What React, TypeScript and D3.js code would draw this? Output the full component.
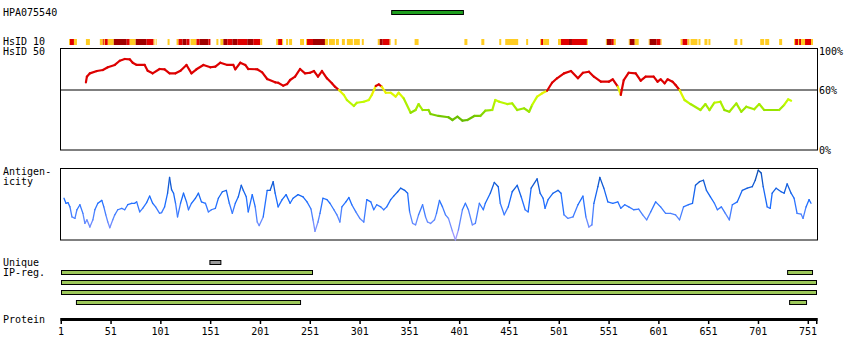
import React from "react";
import * as d3 from "d3";

const TITLE = "HPA075540";
const PROTEIN_LENGTH = 760;
const ANTIGEN: [number, number] = [333, 405];
const TICKS = [1, 51, 101, 151, 201, 251, 301, 351, 401, 451, 501, 551, 601, 651, 701, 751];

// HsID 10 segments: [start, end, level] level 1 = yellow, 2 = red, 3 = dark red
const HSID10: [number, number, number][] = [
  [9, 10, 1], [10, 14, 2], [14, 17, 1], [26, 30, 1], [40, 43, 1], [43, 44, 2], [44, 45, 1], [45, 48, 2],
  [48, 54, 1], [54, 67, 3], [67, 70, 2], [70, 76, 1], [76, 87, 3], [87, 94, 2], [94, 95, 1], [96, 97, 1],
  [108, 110, 1], [117, 119, 1], [119, 123, 2], [123, 127, 3], [127, 130, 2], [131, 137, 1], [137, 140, 2],
  [140, 149, 3], [149, 151, 2], [157, 159, 1], [161, 164, 1], [164, 168, 3], [168, 173, 2], [173, 178, 3],
  [178, 188, 2], [188, 194, 3], [194, 201, 2], [201, 203, 1], [217, 219, 1], [219, 223, 2], [223, 224, 1],
  [227, 229, 1], [230, 233, 1], [241, 245, 1], [247, 248, 1], [248, 254, 2], [254, 266, 3], [266, 269, 1],
  [270, 276, 1], [277, 280, 1], [283, 286, 1], [288, 294, 1], [295, 301, 1], [303, 305, 1], [319, 321, 1],
  [321, 324, 3], [324, 331, 2], [331, 332, 1], [336, 338, 1], [356, 360, 1], [406, 409, 1], [423, 426, 1],
  [441, 443, 1], [447, 460, 1], [468, 470, 1], [482, 483, 1], [483, 485, 2], [485, 491, 1], [500, 503, 1],
  [503, 511, 2], [511, 514, 3], [514, 529, 2], [529, 530, 1], [548, 549, 1], [549, 554, 3], [554, 556, 2],
  [556, 558, 1], [571, 572, 1], [572, 577, 3], [577, 581, 1], [591, 592, 1], [592, 599, 3], [599, 603, 2],
  [603, 604, 1], [623, 625, 1], [625, 630, 2], [630, 632, 1], [633, 640, 1], [641, 643, 1], [647, 650, 1],
  [651, 653, 1], [677, 680, 1], [683, 685, 1], [703, 707, 1], [708, 712, 1], [722, 725, 1], [737, 738, 1],
  [738, 741, 2], [741, 742, 1], [742, 744, 2], [744, 748, 1], [748, 754, 2], [754, 756, 1],
];

// HsID 50 identity (%)
const ID_POS = [26, 27, 30, 37, 43, 48, 55, 60, 65, 70, 73, 77, 85, 88, 93, 100, 105, 110, 116, 121, 127, 132, 137, 144, 151, 156, 161, 168, 174, 176, 181, 186, 189, 198, 203, 208, 216, 219, 224, 228, 231, 236, 241, 246, 251, 255, 259, 263, 268, 273, 276, 280, 285, 288, 295, 298, 305, 310, 313, 317, 320, 323, 327, 332, 337, 340, 345, 352, 357, 360, 364, 370, 372, 380, 390, 394, 399, 404, 409, 416, 422, 427, 434, 437, 441, 449, 454, 459, 466, 471, 474, 479, 484, 489, 494, 499, 506, 513, 520, 525, 531, 536, 543, 551, 555, 560, 563, 566, 571, 578, 583, 588, 596, 600, 603, 607, 610, 615, 618, 622, 627, 633, 643, 648, 652, 657, 663, 667, 672, 679, 684, 689, 697, 702, 707, 722, 727, 731, 734];
const ID_VAL = [67.0, 72.6, 75.9, 78.2, 79.2, 81.9, 84.2, 88.4, 90.1, 89.8, 86.4, 84.2, 84.2, 78.5, 75.9, 80.2, 79.9, 75.9, 75.9, 78.5, 84.2, 75.9, 79.9, 84.2, 81.9, 82.5, 86.4, 84.2, 84.2, 79.9, 86.4, 84.2, 80.2, 79.9, 76.9, 70.3, 67.0, 66.6, 63.7, 65.3, 69.3, 72.6, 80.2, 75.9, 76.5, 78.2, 72.6, 78.2, 71.0, 66.0, 62.7, 59.4, 54.5, 49.5, 43.6, 46.8, 47.8, 49.5, 54.5, 63.4, 65.0, 62.7, 56.7, 56.7, 52.8, 56.7, 51.2, 36.9, 39.6, 45.5, 39.6, 39.6, 35.6, 33.7, 32.4, 29.7, 33.0, 29.0, 29.7, 33.7, 33.7, 38.9, 39.6, 49.5, 47.8, 45.5, 46.2, 39.6, 41.3, 37.9, 44.6, 52.8, 56.1, 58.7, 66.6, 71.0, 75.9, 78.2, 71.0, 76.5, 77.5, 72.6, 67.6, 67.6, 70.0, 62.7, 54.5, 69.3, 76.5, 75.9, 68.6, 72.6, 72.6, 67.6, 70.0, 66.0, 70.0, 67.6, 64.4, 59.4, 49.5, 45.5, 39.6, 45.5, 39.6, 46.8, 47.8, 39.6, 37.9, 46.2, 37.9, 42.9, 40.3, 45.5, 39.6, 39.6, 44.6, 50.2, 48.8];

// Antigenicity (relative score 0..1)
const AG_POS = [4, 6, 8, 10, 12, 15, 17, 20, 23, 25, 27, 30, 33, 35, 38, 42, 44, 46, 48, 50, 53, 55, 58, 62, 65, 68, 72, 75, 77, 80, 83, 87, 90, 93, 96, 100, 102, 105, 108, 110, 112, 114, 116, 118, 121, 124, 127, 129, 132, 136, 139, 142, 146, 149, 152, 156, 159, 163, 167, 170, 173, 176, 179, 182, 184, 187, 189, 193, 196, 198, 200, 204, 208, 211, 214, 216, 219, 223, 227, 231, 234, 239, 244, 248, 252, 254, 256, 259, 261, 264, 268, 271, 275, 278, 281, 283, 287, 290, 293, 297, 301, 305, 308, 312, 315, 318, 322, 325, 328, 332, 335, 339, 342, 346, 349, 351, 354, 357, 360, 364, 367, 369, 372, 376, 378, 381, 384, 387, 390, 394, 397, 400, 404, 407, 410, 414, 417, 421, 425, 427, 432, 436, 440, 442, 446, 450, 454, 459, 463, 467, 470, 473, 479, 482, 485, 487, 490, 495, 500, 503, 506, 510, 515, 520, 525, 528, 531, 534, 536, 540, 542, 546, 550, 555, 560, 563, 567, 571, 576, 581, 585, 589, 593, 598, 603, 608, 613, 618, 622, 626, 631, 635, 638, 642, 646, 649, 653, 657, 660, 664, 668, 672, 675, 680, 685, 690, 695, 698, 701, 704, 706, 710, 713, 715, 719, 724, 727, 730, 734, 737, 740, 744, 746, 749, 752, 754];
const AG_VAL = [0.58, 0.51, 0.52, 0.46, 0.32, 0.30, 0.42, 0.49, 0.37, 0.23, 0.28, 0.18, 0.28, 0.42, 0.51, 0.55, 0.46, 0.35, 0.25, 0.17, 0.28, 0.35, 0.42, 0.44, 0.42, 0.49, 0.51, 0.51, 0.53, 0.39, 0.44, 0.52, 0.61, 0.51, 0.46, 0.37, 0.38, 0.46, 0.65, 0.87, 0.70, 0.65, 0.51, 0.32, 0.51, 0.65, 0.53, 0.42, 0.51, 0.58, 0.65, 0.53, 0.51, 0.39, 0.42, 0.44, 0.58, 0.67, 0.69, 0.51, 0.37, 0.51, 0.60, 0.76, 0.69, 0.60, 0.39, 0.63, 0.46, 0.25, 0.20, 0.32, 0.69, 0.69, 0.81, 0.65, 0.46, 0.56, 0.63, 0.51, 0.58, 0.63, 0.60, 0.53, 0.43, 0.28, 0.12, 0.25, 0.37, 0.58, 0.56, 0.51, 0.42, 0.35, 0.25, 0.46, 0.53, 0.59, 0.49, 0.39, 0.30, 0.25, 0.56, 0.53, 0.42, 0.49, 0.46, 0.42, 0.46, 0.56, 0.61, 0.67, 0.72, 0.69, 0.65, 0.39, 0.23, 0.21, 0.35, 0.49, 0.32, 0.25, 0.23, 0.28, 0.37, 0.55, 0.46, 0.35, 0.30, 0.12, 0.0, 0.14, 0.42, 0.51, 0.42, 0.21, 0.23, 0.51, 0.42, 0.51, 0.65, 0.80, 0.74, 0.51, 0.35, 0.46, 0.67, 0.76, 0.60, 0.42, 0.39, 0.72, 0.85, 0.65, 0.58, 0.44, 0.56, 0.65, 0.69, 0.65, 0.35, 0.30, 0.32, 0.49, 0.61, 0.32, 0.18, 0.21, 0.51, 0.74, 0.87, 0.72, 0.53, 0.51, 0.53, 0.44, 0.49, 0.46, 0.42, 0.43, 0.35, 0.28, 0.39, 0.53, 0.46, 0.37, 0.37, 0.35, 0.28, 0.46, 0.49, 0.51, 0.76, 0.81, 0.83, 0.69, 0.60, 0.51, 0.42, 0.46, 0.37, 0.28, 0.49, 0.53, 0.69, 0.72, 0.74, 0.83, 0.97, 0.93, 0.74, 0.46, 0.44, 0.65, 0.72, 0.67, 0.65, 0.78, 0.65, 0.58, 0.37, 0.36, 0.30, 0.46, 0.56, 0.51];

const UNIQUE: [number, number][] = [[150, 161]];
// IP regions: [row, start, end]
const IP_REG: [number, number, number][] = [
  [0, 1, 254], [0, 730, 756],
  [1, 1, 760],
  [2, 1, 760],
  [3, 16, 242], [3, 732, 750],
];

const FONT = "'DejaVu Sans Mono', monospace";

export default function App() {
  const x = d3.scaleLinear().domain([1, PROTEIN_LENGTH]).range([61, 817]);
  const yId = d3.scaleLinear().domain([0, 100]).range([150, 49]);
  const yAg = d3.scaleLinear().domain([0, 1]).range([240, 168]);

  const idColor = (v: number) =>
    v >= 60
      ? "#dd0000"
      : d3.scaleLinear<string>().domain([30, 40, 50, 60]).range(["#66bb00", "#99e600", "#ccff00", "#eeee00"]).clamp(true)(v);
  const agColor = d3
    .scaleLinear<string>()
    .domain([0, 0.3, 0.55, 1])
    .range(["#aa99ff", "#5a88ff", "#1a6cff", "#0a4aa8"]);
  const hsColor = (l: number) => (l === 1 ? "#ffcc22" : l === 2 ? "#e00000" : "#a00000");

  const idSegs = ID_POS.slice(1).map((p, i) => {
    const p0 = ID_POS[i];
    const v0 = ID_VAL[i];
    const v1 = ID_VAL[i + 1];
    return { p0, p1: p, v0, v1, c: idColor((v0 + v1) / 2) };
  });
  const agSegs = AG_POS.slice(1).map((p, i) => {
    const p0 = AG_POS[i];
    const v0 = AG_VAL[i];
    const v1 = AG_VAL[i + 1];
    return { p0, p1: p, v0, v1, c: agColor((v0 + v1) / 2) };
  });

  const x0 = x(1) - 0.5;
  const x1 = x(PROTEIN_LENGTH) + 0.5;
  const rowY = (r: number) => 270 + r * 10;
  const seg = d3.line<[number, number]>();

  return (
    <svg
      width={850}
      height={360}
      style={{ position: "absolute", left: 0, top: 0, background: "#fff" }}
      fontFamily={FONT}
      fontSize={10}
    >
      <rect width={850} height={360} fill="#fff" />
      <text x={3} y={16}>{TITLE}</text>
      <rect
        x={x(ANTIGEN[0])}
        y={10.5}
        width={x(ANTIGEN[1]) - x(ANTIGEN[0])}
        height={4}
        fill="#1e9e1e"
        stroke="#000"
        strokeWidth={1}
      />

      <text x={3} y={45}>HsID 10</text>
      <text x={3} y={55}>HsID 50</text>
      {HSID10.map(([s, e, l], i) => (
        <rect key={i} x={x(s)} y={39} width={Math.max(1, x(e) - x(s))} height={6} fill={hsColor(l)} />
      ))}

      <rect x={x0} y={48.5} width={x1 - x0} height={101.5} fill="none" stroke="#000" strokeWidth={1} />
      <line x1={x0} x2={x1} y1={90} y2={90} stroke="#000" strokeWidth={1} />
      <text x={819} y={55}>100%</text>
      <text x={819} y={94}>60%</text>
      <text x={819} y={154}>0%</text>
      {idSegs.map((s, i) => (
        <path
          key={i}
          d={seg([
            [x(s.p0), yId(s.v0)],
            [x(s.p1), yId(s.v1)],
          ]) as string}
          fill="none"
          stroke={s.c}
          strokeWidth={2.2}
          strokeLinecap="round"
        />
      ))}

      <text x={3} y={175}>Antigen-</text>
      <text x={3} y={185}>icity</text>
      <rect x={x0} y={168.5} width={x1 - x0} height={71.5} fill="none" stroke="#000" strokeWidth={1} />
      {agSegs.map((s, i) => (
        <path
          key={i}
          d={seg([
            [x(s.p0), yAg(s.v0)],
            [x(s.p1), yAg(s.v1)],
          ]) as string}
          fill="none"
          stroke={s.c}
          strokeWidth={1.3}
          strokeLinecap="round"
        />
      ))}

      <text x={3} y={266}>Unique</text>
      <text x={3} y={276}>IP-reg.</text>
      {UNIQUE.map(([s, e], i) => (
        <rect key={i} x={x(s) + 0.5} y={260.5} width={x(e) - x(s)} height={4} fill="#999" stroke="#000" strokeWidth={1} />
      ))}
      {IP_REG.map(([r, s, e], i) => (
        <rect key={i} x={x(s) + 0.5} y={rowY(r) + 0.5} width={x(e) - x(s) - 1} height={4} fill="#9dc85a" stroke="#000" strokeWidth={1} />
      ))}

      <text x={3} y={323}>Protein</text>
      <rect x={x0} y={318} width={x1 - x0} height={3} fill="#000" />
      {TICKS.map((t) => (
        <g key={t}>
          <rect x={x(t) - 0.5} y={318} width={1.5} height={6} fill="#000" />
          <text x={x(t)} y={335} textAnchor="middle">{t}</text>
        </g>
      ))}
      <rect x={x1 - 1.5} y={318} width={1.5} height={6} fill="#000" />
    </svg>
  );
}
